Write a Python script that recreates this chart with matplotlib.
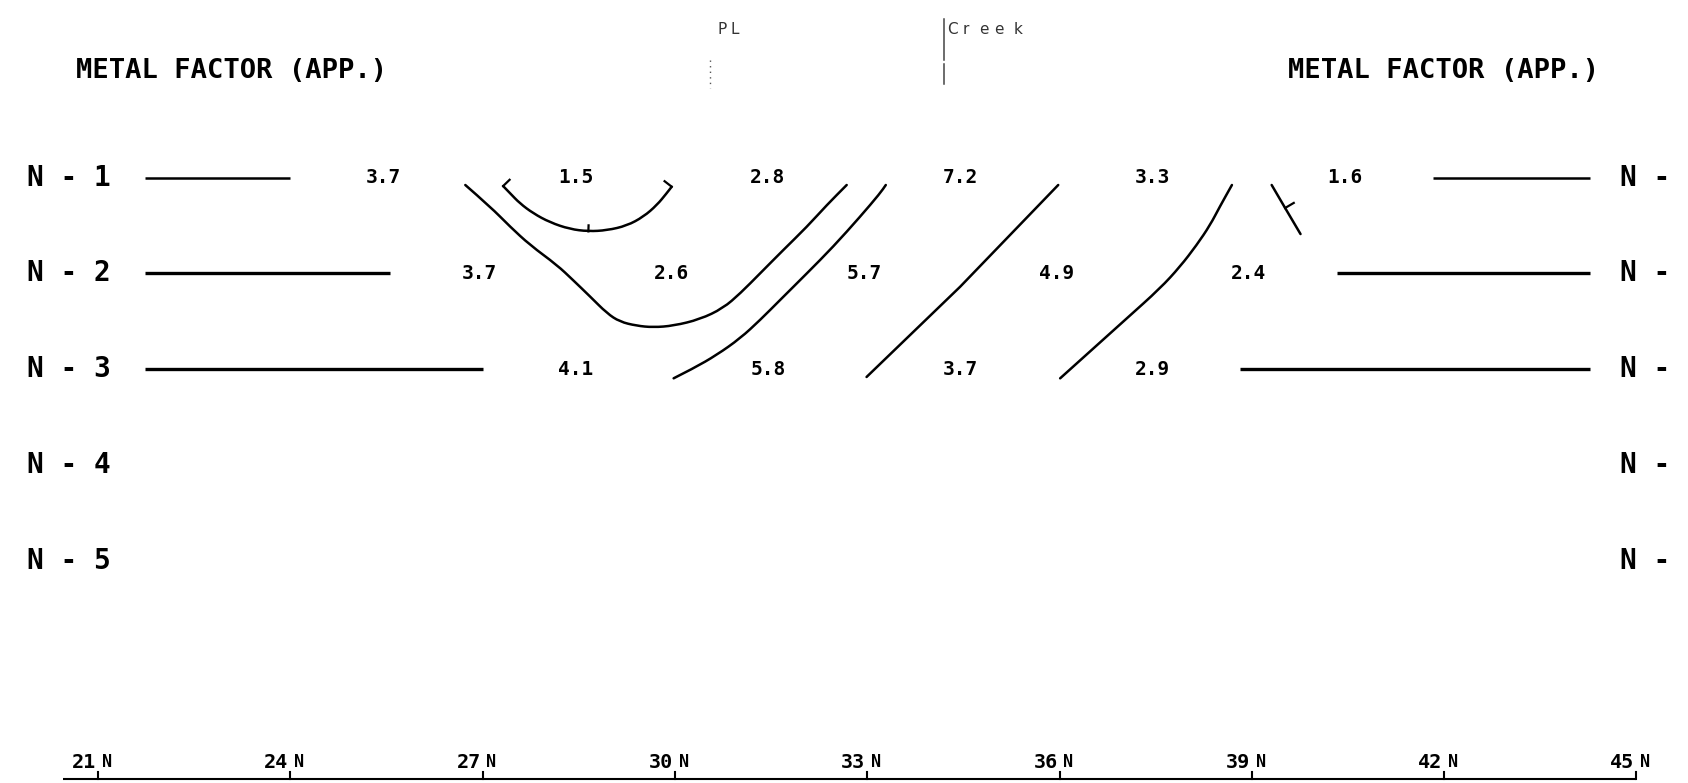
"""
Metal factor (apparent) pseudo-section, stations 21N - 45N, levels N-1 .. N-5.
"""

import matplotlib
matplotlib.use("Agg")
import matplotlib.pyplot as plt
import numpy as np
from matplotlib.path import Path
from matplotlib.patches import PathPatch

# === data read off the section ===
# station positions (N) and plotted values per level
ROW1_X = [25.5, 28.5, 31.5, 34.5, 37.5, 40.5]
ROW1_VAL = ["3.7", "1.5", "2.8", "7.2", "3.3", "1.6"]
ROW2_X = [27, 30, 33, 36, 39]
ROW2_VAL = ["3.7", "2.6", "5.7", "4.9", "2.4"]
ROW3_X = [28.5, 31.5, 34.5, 37.5]
ROW3_VAL = ["4.1", "5.8", "3.7", "2.9"]

LEVELS = [1, 2, 3, 4, 5]
LEVEL_LABELS = ["N - 1", "N - 2", "N - 3", "N - 4", "N - 5"]

STATIONS = [21, 24, 27, 30, 33, 36, 39, 42, 45]
STATION_LABELS = ["21", "24", "27", "30", "33", "36", "39", "42", "45"]

# horizontal "open" lines on both ends of levels 1-3
LEFT_START = [21.74, 21.74, 21.74]
LEFT_END = [24.0, 25.55, 27.0]
RIGHT_START = [41.83, 40.33, 38.82]
RIGHT_END = [44.28, 44.28, 44.28]

# contour lines (station, level)
CURVE_A_X = [27.32, 27.43, 27.58, 27.79, 28.05, 28.36, 28.65, 28.94, 29.25, 29.51, 29.72, 29.87, 29.95]
CURVE_A_N = [1.088, 1.164, 1.268, 1.373, 1.467, 1.537, 1.561, 1.550, 1.502, 1.408, 1.286, 1.164, 1.095]
CURVE_B_X = [26.73, 27.12, 27.43, 27.74, 28.16, 28.41, 28.68, 28.94, 29.14, 29.40,
             29.66, 29.98, 30.39, 30.75, 31.02, 31.33, 31.69, 32.06, 32.37, 32.68]
CURVE_B_N = [1.077, 1.304, 1.513, 1.704, 1.912, 2.069, 2.243, 2.416, 2.504, 2.546,
             2.563, 2.546, 2.479, 2.364, 2.208, 1.999, 1.756, 1.513, 1.286, 1.077]
CURVE_C_X = [29.98, 30.29, 30.65, 31.02, 31.33, 31.64, 32.06, 32.47, 32.89, 33.20, 33.29]
CURVE_C_N = [3.095, 2.991, 2.852, 2.677, 2.486, 2.278, 1.999, 1.721, 1.408, 1.164, 1.077]
CURVE_D_X = [32.99, 34.45, 35.98]
CURVE_D_N = [3.081, 2.139, 1.077]
CURVE_E_X = [36.01, 36.53, 37.05, 37.57, 37.88, 38.14, 38.35, 38.50, 38.69]
CURVE_E_N = [3.095, 2.782, 2.469, 2.156, 1.930, 1.704, 1.495, 1.304, 1.077]
CURVE_F_X = [39.31, 39.52, 39.76]
CURVE_F_N = [1.077, 1.317, 1.589]

# hachure ticks (vertex index, tick length px) on the low contours
HACH_A = [(0, 9), (6, 6), (12, 9)]
HACH_F = [(1, 10)]

# markers at the top
PL_X = 30.55
CREEK_X = 34.20


def smooth_line(ax, xs, ys, lw=1.8):
    # quadratic bezier through the midpoints, the read points act as control points
    v = np.column_stack([xs, ys])
    verts = [v[0]]
    codes = [Path.MOVETO]
    for i in range(1, len(v) - 1):
        verts += [v[i], (v[i] + v[i + 1]) / 2]
        codes += [Path.CURVE3, Path.CURVE3]
    verts.append(v[-1])
    codes.append(Path.LINETO)
    ax.add_patch(PathPatch(Path(verts, codes), fill=False, edgecolor="black", lw=lw,
                           capstyle="round", joinstyle="round"))


def hachure(ax, xs, ys, idx, length):
    pts = ax.transData.transform(np.column_stack([xs, ys]))
    j0, j1 = max(idx - 1, 0), min(idx + 1, len(xs) - 1)
    d = pts[j1] - pts[j0]
    d = d / np.hypot(*d)
    normal = np.array([-d[1], d[0]])
    p0 = pts[idx]
    p1 = p0 + normal * length
    q = ax.transData.inverted().transform([p0, p1])
    ax.plot(q[:, 0], q[:, 1], color="black", lw=1.6)


def main() -> None:
    fig = plt.figure(figsize=(16.88, 7.83), dpi=100)
    ax = fig.add_axes([0, 0, 1, 1])
    ax.set_xlim(19.471, 45.805)
    ax.set_ylim(7.319, -0.854)
    ax.axis("off")

    mono = dict(fontfamily="DejaVu Sans Mono", fontweight="bold", color="black")

    # === titles ===
    ax.text(20.65, -0.108, "METAL FACTOR (APP.)", ha="left", va="center", fontsize=19.5, **mono)
    ax.text(39.57, -0.108, "METAL FACTOR (APP.)", ha="left", va="center", fontsize=19.5, **mono)

    # PL / Creek markers
    for i, ch in enumerate("PL"):
        ax.text(PL_X + 0.12 + i * 0.19, -0.551, ch, ha="left", va="center",
                fontsize=11, color="#333333", fontfamily="DejaVu Sans")
    ax.plot([PL_X, PL_X], [-0.227, 0.064], color="#555555", lw=1.0, ls=(0, (1, 3)))
    for i, ch in enumerate("Creek"):
        ax.text(CREEK_X + 0.05 + i * 0.245 + (0.06 if ch == "k" else 0), -0.551, ch,
                ha="left", va="center", fontsize=11, color="#333333", fontfamily="DejaVu Sans")
    ax.plot([CREEK_X, CREEK_X], [-0.655, -0.225], color="#444444", lw=1.1)
    ax.plot([CREEK_X, CREEK_X], [-0.19, 0.023], color="#444444", lw=1.1)

    # === level labels ===
    for lev, lab in zip(LEVELS, LEVEL_LABELS):
        ax.text(19.89, lev, lab, ha="left", va="center", fontsize=20, **mono)
        ax.text(44.74, lev, lab[:3], ha="left", va="center", fontsize=20, **mono)

    # === open lines at the ends ===
    for k in range(3):
        lw = 1.8 if k == 0 else 2.4
        ax.plot([LEFT_START[k], LEFT_END[k]], [LEVELS[k]] * 2, color="black", lw=lw,
                solid_capstyle="butt")
        ax.plot([RIGHT_START[k], RIGHT_END[k]], [LEVELS[k]] * 2, color="black", lw=lw,
                solid_capstyle="butt")

    # === values ===
    for xs, vals, lev in [(ROW1_X, ROW1_VAL, 1), (ROW2_X, ROW2_VAL, 2), (ROW3_X, ROW3_VAL, 3)]:
        for x, v in zip(xs, vals):
            ax.text(x - 0.05, lev, v, ha="center", va="center", fontsize=14, **mono)

    # === contours ===
    for xs, ys in [(CURVE_A_X, CURVE_A_N), (CURVE_B_X, CURVE_B_N), (CURVE_C_X, CURVE_C_N),
                   (CURVE_E_X, CURVE_E_N)]:
        smooth_line(ax, xs, ys)
    for xs, ys in [(CURVE_D_X, CURVE_D_N), (CURVE_F_X, CURVE_F_N)]:
        ax.plot(xs, ys, color="black", lw=1.8, solid_capstyle="round", solid_joinstyle="round")

    for idx, length in HACH_A:
        hachure(ax, CURVE_A_X, CURVE_A_N, idx, length)
    for idx, length in HACH_F:
        hachure(ax, CURVE_F_X, CURVE_F_N, idx, length)

    # === station axis ===
    base = 7.282
    ax.plot([20.45, STATIONS[-1]], [base, base], color="black", lw=1.5, solid_capstyle="butt")
    for s, lab in zip(STATIONS, STATION_LABELS):
        ax.plot([s, s], [base, base - 0.075], color="black", lw=1.5)
        ax.text(s - 0.03, 7.10, lab, ha="right", va="center", fontsize=14.5, **mono)
        ax.text(s + 0.06, 7.10, "N", ha="left", va="center", fontsize=12, **mono)

    fig.savefig("out.png", dpi=100)


if __name__ == "__main__":
    main()
